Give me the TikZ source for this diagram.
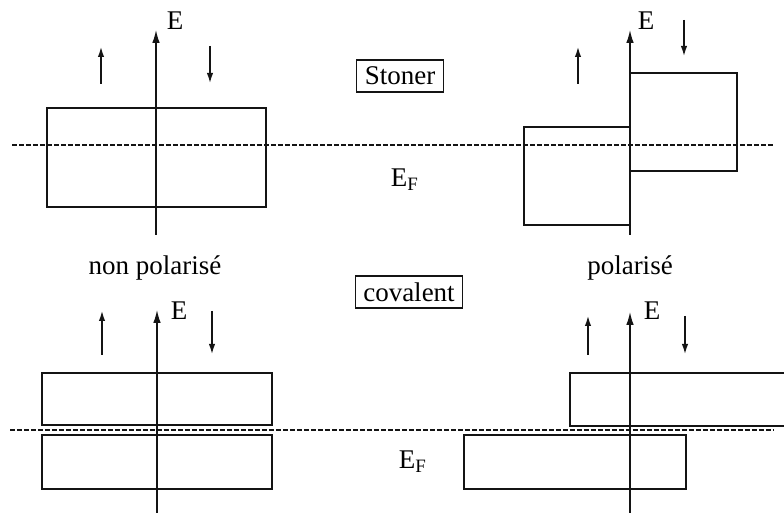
\documentclass[tikz,border=0pt]{standalone}
\usepackage{fontspec}
\setmainfont{Liberation Serif}
\usepackage{tikz}
\usetikzlibrary{arrows.meta, positioning}
\definecolor{inkdark}{RGB}{20,20,20}
\tikzset{
  band/.style={draw=inkdark, line width=0.75pt},
  axis/.style={-{Latex[length=6.5pt,width=3.8pt]}, line width=0.7pt, color=inkdark},
  spin/.style={-{Latex[length=5pt,width=3.2pt]}, line width=0.65pt, color=inkdark},
  fermi/.style={dash pattern=on 2.6pt off 0.9pt, line width=0.6pt, color=inkdark},
  lbl/.style={font=\fontsize{13.5}{16}\selectfont, inner sep=0pt},
  modelbox/.style={draw=inkdark, line width=0.6pt, font=\fontsize{13.5}{16}\selectfont,
    inner xsep=4pt, inner ysep=0pt, minimum height=16pt}
}
\begin{document}
\begin{tikzpicture}[x=0.5pt, y=-0.5pt]
  \useasboundingbox (0,0) rectangle (784,517);

  % model labels and Fermi levels
  \node[modelbox] (stoner) at (400,76) {Stoner};
  \node[modelbox] (coval) at (409,292) {covalent};
  \node[lbl] (efTop) at (405,180) {E\textsubscript{F}};
  \node[lbl] (efBot) at (413,462) {E\textsubscript{F}};
  \node[lbl] (nonpol) at (155,268) {non polarisé};
  \node[lbl] (pol) at (630,268) {polarisé};

  % Fermi lines
  \coordinate (fTa) at (12,145);
  \coordinate (fTb) at (774,145);
  \coordinate (fBa) at (10,430);
  \coordinate (fBb) at (774,430);
  \draw[fermi] (fTa) -- (fTb);
  \draw[fermi] (fBa) -- (fBb);

  % Stoner, non polarise
  \draw[band] (47,108) rectangle (266,207);
  \coordinate (axTLb) at (156,235);
  \coordinate (axTLt) at (156,30);
  \draw[axis] (axTLb) -- (axTLt);
  \node[lbl] (eTL) at (175,21) {E};
  \coordinate (upTLa) at (101,84);
  \coordinate (upTLb) at (101,47);
  \coordinate (dnTLa) at (210,46);
  \coordinate (dnTLb) at (210,83);
  \draw[spin] (upTLa) -- (upTLb);
  \draw[spin] (dnTLa) -- (dnTLb);

  % Stoner, polarise
  \draw[band] (630,127) -| (524,225) -- (630,225);
  \draw[band] (630,73) -| (737,171) -- (630,171);
  \coordinate (axTRb) at (630,235);
  \coordinate (axTRt) at (630,30);
  \draw[axis] (axTRb) -- (axTRt);
  \node[lbl] (eTR) at (646,21) {E};
  \coordinate (upTRa) at (578,84);
  \coordinate (upTRb) at (578,47);
  \coordinate (dnTRa) at (684,20);
  \coordinate (dnTRb) at (684,56);
  \draw[spin] (upTRa) -- (upTRb);
  \draw[spin] (dnTRa) -- (dnTRb);

  % covalent, non polarise
  \draw[band] (42,373) rectangle (272,425);
  \draw[band] (42,435) rectangle (272,489);
  \coordinate (axBLb) at (157,513);
  \coordinate (axBLt) at (157,310);
  \draw[axis] (axBLb) -- (axBLt);
  \node[lbl] (eBL) at (179,311) {E};
  \coordinate (upBLa) at (102,355);
  \coordinate (upBLb) at (102,311);
  \coordinate (dnBLa) at (212,311);
  \coordinate (dnBLb) at (212,354);
  \draw[spin] (upBLa) -- (upBLb);
  \draw[spin] (dnBLa) -- (dnBLb);

  % covalent, polarise
  \draw[band] (784,373) -| (570,426) -- (784,426);
  \draw[band] (464,435) rectangle (686,489);
  \coordinate (axBRb) at (630,513);
  \coordinate (axBRt) at (630,312);
  \draw[axis] (axBRb) -- (axBRt);
  \node[lbl] (eBR) at (652,311) {E};
  \coordinate (upBRa) at (588,355);
  \coordinate (upBRb) at (588,316);
  \coordinate (dnBRa) at (685,316);
  \coordinate (dnBRb) at (685,354);
  \draw[spin] (upBRa) -- (upBRb);
  \draw[spin] (dnBRa) -- (dnBRb);
\end{tikzpicture}
\end{document}
